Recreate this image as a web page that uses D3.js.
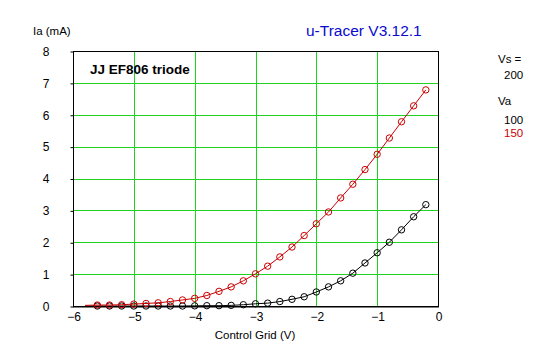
<!DOCTYPE html>
<html><head><meta charset="utf-8">
<script src="https://cdn.jsdelivr.net/npm/d3@7"></script>
<style>
html,body{margin:0;padding:0;background:#fff;}
svg{display:block;}
text{font-family:"Liberation Sans",Arial,sans-serif;}
</style></head>
<body>
<svg id="c" width="547" height="357"></svg>
<script>
const gridVolts = [-5.8,-5.6,-5.4,-5.2,-5.0,-4.8,-4.6,-4.4,-4.2,-4.0,-3.8,-3.6,-3.4,-3.2,-3.0,-2.8,-2.6,-2.4,-2.2,-2.0,-1.8,-1.6,-1.4,-1.2,-1.0,-0.8,-0.6,-0.4,-0.2];
const ia100 = [0.0,0.0,0.0,0.0,0.0,0.0,0.0,0.0,0.0,0.005,0.01,0.01,0.02,0.04,0.07,0.09,0.14,0.21,0.29,0.44,0.60,0.79,1.03,1.35,1.67,2.00,2.39,2.80,3.18];
const ia150 = [0.02,0.03,0.03,0.04,0.06,0.08,0.10,0.14,0.19,0.24,0.33,0.46,0.60,0.79,1.01,1.25,1.54,1.85,2.21,2.58,2.95,3.39,3.82,4.28,4.76,5.27,5.78,6.28,6.78];
const xTicks = [-6,-5,-4,-3,-2,-1,0];
const yTicks = [0,1,2,3,4,5,6,7,8];
const seriesNames = ["100","150"];
const seriesColors = ["#000000","#cc0000"];

const svg = d3.select("#c");
const L=73, R=438, T=51, B=306;
const x = d3.scaleLinear().domain([-6,0]).range([L,R]);
const y = d3.scaleLinear().domain([0,8]).range([B,T]);

// grid
const g = svg.append("g");
g.selectAll(".vg").data(xTicks.filter(v=>v>-6 && v<0)).enter().append("line")
  .attr("x1",d=>Math.round(x(d))+0.5).attr("x2",d=>Math.round(x(d))+0.5)
  .attr("y1",T).attr("y2",B).attr("stroke","#1ed21e").attr("stroke-width",1);
g.selectAll(".hg").data(yTicks.filter(v=>v>0 && v<8)).enter().append("line")
  .attr("y1",d=>Math.round(y(d))+0.5).attr("y2",d=>Math.round(y(d))+0.5)
  .attr("x1",L).attr("x2",R).attr("stroke","#1ed21e").attr("stroke-width",1);

// frame
svg.append("rect").attr("x",L+0.5).attr("y",T+0.5).attr("width",R-L).attr("height",B-T)
  .attr("fill","none").attr("stroke","#000").attr("stroke-width",1);
svg.append("line").attr("x1",L).attr("x2",R+1).attr("y1",B+1).attr("y2",B+1).attr("stroke","#000").attr("stroke-width",1);

// y axis
const yAxis = d3.axisLeft(y).tickValues(yTicks).tickSize(3).tickPadding(21).tickFormat(d3.format("d"));
const ya = svg.append("g").attr("transform",`translate(${L+0.5},0.5)`).call(yAxis);
ya.select(".domain").remove();
ya.selectAll("text").attr("font-size",12).attr("font-family","Liberation Sans, Arial, sans-serif").attr("fill","#000");

// x axis
const xAxis = d3.axisBottom(x).tickValues(xTicks).tickSize(0).tickPadding(5).tickFormat(d3.format("d"));
const xa = svg.append("g").attr("transform",`translate(0.5,${B+1})`).call(xAxis);
xa.select(".domain").remove();
xa.selectAll("text").attr("font-size",12).attr("font-family","Liberation Sans, Arial, sans-serif").attr("fill","#000");

// series
const seriesData = [ia100, ia150];
seriesData.forEach((vals,si)=>{
  const pts = gridVolts.map((v,i)=>[v,vals[i]]);
  const line = d3.line().x(d=>x(d[0])).y(d=>y(d[1]));
  svg.append("path").datum(pts).attr("d",line).attr("fill","none")
    .attr("stroke",seriesColors[si]).attr("stroke-width",1);
  svg.selectAll(".m"+si).data(pts.slice(1)).enter().append("circle")
    .attr("cx",d=>x(d[0])).attr("cy",d=>y(d[1])).attr("r",3.2)
    .attr("fill","none").attr("stroke",seriesColors[si]).attr("stroke-width",1);
});

// texts
svg.append("text").attr("x",33).attr("y",35).attr("font-size",11.5).text("Ia (mA)");
svg.append("text").attr("x",90).attr("y",74).attr("font-size",13.5).attr("font-weight","bold").text("JJ EF806 triode");
svg.append("text").attr("x",306).attr("y",36).attr("font-size",15.5).attr("fill","#0a0ad0")
  .attr("font-family","DejaVu Sans, sans-serif").text("u-Tracer V3.12.1");
svg.append("text").attr("x",255).attr("y",339).attr("font-size",11.5).attr("text-anchor","middle").text("Control Grid (V)");
svg.append("text").attr("x",498).attr("y",63).attr("font-size",11.5).text("Vs =");
svg.append("text").attr("x",504).attr("y",79).attr("font-size",11.5).text("200");
svg.append("text").attr("x",498).attr("y",105).attr("font-size",11.5).text("Va");
seriesNames.forEach((n,i)=>{
  svg.append("text").attr("x",504).attr("y",124+i*13).attr("font-size",11.5).attr("fill",seriesColors[i]).text(n);
});
</script>
</body></html>
